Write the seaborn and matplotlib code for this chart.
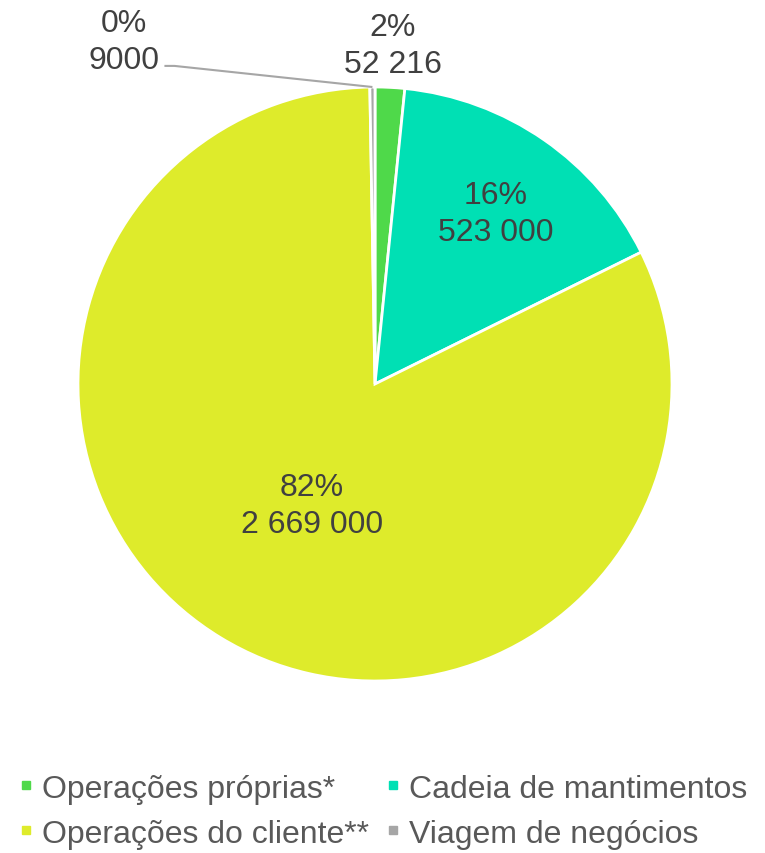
import numpy as np
import matplotlib.pyplot as plt
import seaborn as sns
from matplotlib.lines import Line2D

categorias = ["Operações próprias*", "Cadeia de mantimentos",
              "Operações do cliente**", "Viagem de negócios"]
valores = [52216, 523000, 2669000, 9000]
cores = ["#4FD94A", "#00E0B4", "#DEEB2B", "#A6A6A6"]

sns.set_theme(style="white")
plt.rcParams["font.family"] = ["Liberation Sans", "DejaVu Sans"]


def fmt_num(v):
    # separador de milhares com espaco (so a partir de 5 digitos)
    if v >= 10000:
        return f"{v:,}".replace(",", " ")
    return str(v)


fig = plt.figure(figsize=(7.65, 8.54), dpi=100)
ax = fig.add_axes([0, 0, 1, 1])

wedges, _ = ax.pie(valores, colors=cores, startangle=90, counterclock=False,
                   radius=1, wedgeprops=dict(edgecolor="white", linewidth=2))

# limites calculados para o centro da tarta ficar em (375, 385) px, raio 297 px
R = 297
ax.set_xlim(-375 / R, (765 - 375) / R)
ax.set_ylim(-(854 - 385) / R, 385 / R)
ax.set_aspect("auto")
ax.axis("off")

total = sum(valores)
texto_cor = "#404040"
fs = 23
# posicoes das etiquetas (unidades do raio)
pos_etiquetas = [(0.06, 1.14), (0.405, 0.575), (-0.212, -0.41), (-0.845, 1.153)]
for i, (w, v) in enumerate(zip(wedges, valores)):
    pct = round(v / total * 100)
    lbl = f"{pct}%\n{fmt_num(v)}"
    x, y = pos_etiquetas[i]
    ax.text(x, y, lbl, ha="center", va="center", fontsize=fs,
            color=texto_cor, linespacing=1.3)
    if i == 3:
        # linha de chamada para a fatia pequena
        ang = np.deg2rad((w.theta1 + w.theta2) / 2)
        xe, ye = np.cos(ang), np.sin(ang)
        ax.plot([-0.709, -0.675, xe], [1.071, 1.071, ye],
                color="#A6A6A6", lw=1.5, solid_capstyle="butt")

handles = [Line2D([], [], marker="s", linestyle="", markersize=6,
                  markerfacecolor=c, markeredgecolor=c) for c in cores]
# legenda preenchida por linhas: reordenar para o preenchimento por colunas
ordem = [0, 2, 1, 3]
leg = fig.legend([handles[k] for k in ordem], [categorias[k] for k in ordem],
                 ncol=2, loc="center", bbox_to_anchor=(0.5, 0.049),
                 frameon=False, fontsize=fs, handlelength=0.5,
                 handletextpad=0.25, columnspacing=0.5, labelspacing=0.47)
for t in leg.get_texts():
    t.set_color("#595959")

fig.savefig("out.png", dpi=100)
